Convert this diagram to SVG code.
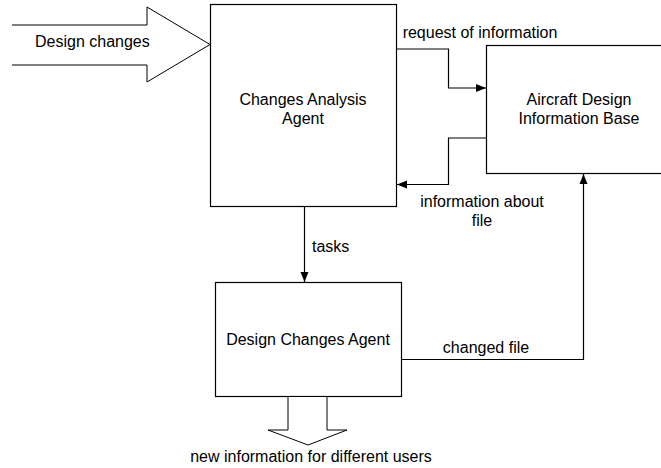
<svg xmlns="http://www.w3.org/2000/svg" width="661" height="468" viewBox="0 0 661 468">
<style>
.box{fill:#fff;stroke:#000;stroke-width:1.2}
.ln{fill:none;stroke:#000;stroke-width:1.2}
.big{fill:#fff;stroke:#000;stroke-width:1}
text{font-family:"Liberation Sans",Arial,sans-serif;font-size:16px;fill:#000}
.c{text-anchor:middle}
</style>
<defs>
<marker id="ah" viewBox="0 0 10 10" refX="10" refY="5" markerWidth="10" markerHeight="10" markerUnits="userSpaceOnUse" orient="auto">
<path d="M0,1 L10,5 L0,9 Z" fill="#000"/>
</marker>
</defs>
<rect width="661" height="468" fill="#fff"/>
<g id="input-arrow">
<path class="big" d="M12,25 H147 V7 L210,44.5 L147,82 V65 H12"/>
<text x="35" y="47">Design changes</text>
</g>
<g id="changes-analysis-agent">
<rect class="box" x="210.5" y="4.5" width="186" height="202"/>
<text class="c" x="303" y="105">Changes Analysis</text>
<text class="c" x="303" y="124">Agent</text>
</g>
<g id="aircraft-design-information-base">
<rect class="box" x="486.5" y="45.5" width="180" height="128"/>
<text class="c" x="579" y="105">Aircraft Design</text>
<text class="c" x="579" y="124">Information Base</text>
</g>
<g id="design-changes-agent">
<rect class="box" x="215.5" y="282.5" width="186" height="114"/>
<text class="c" x="308" y="345">Design Changes Agent</text>
</g>
<g id="output-arrow">
<path class="big" d="M288,397 V430 H268 L308,445 L347,430 H327 V397"/>
<text class="c" x="311" y="462">new information for different users</text>
</g>
<g id="connectors">
<path class="ln" d="M396.5,49 H448.5 V88 H486" marker-end="url(#ah)"/>
<path class="ln" d="M486.5,138 H448.5 V184.5 H397" marker-end="url(#ah)"/>
<path class="ln" d="M304.5,206.5 V282" marker-end="url(#ah)"/>
<path class="ln" d="M401.5,359.5 H583.5 V174" marker-end="url(#ah)"/>
<text class="c" x="480" y="38">request of information</text>
<text class="c" x="482" y="207">information about</text>
<text class="c" x="482" y="226">file</text>
<text x="312" y="252">tasks</text>
<text class="c" x="486" y="353">changed file</text>
</g>
</svg>
